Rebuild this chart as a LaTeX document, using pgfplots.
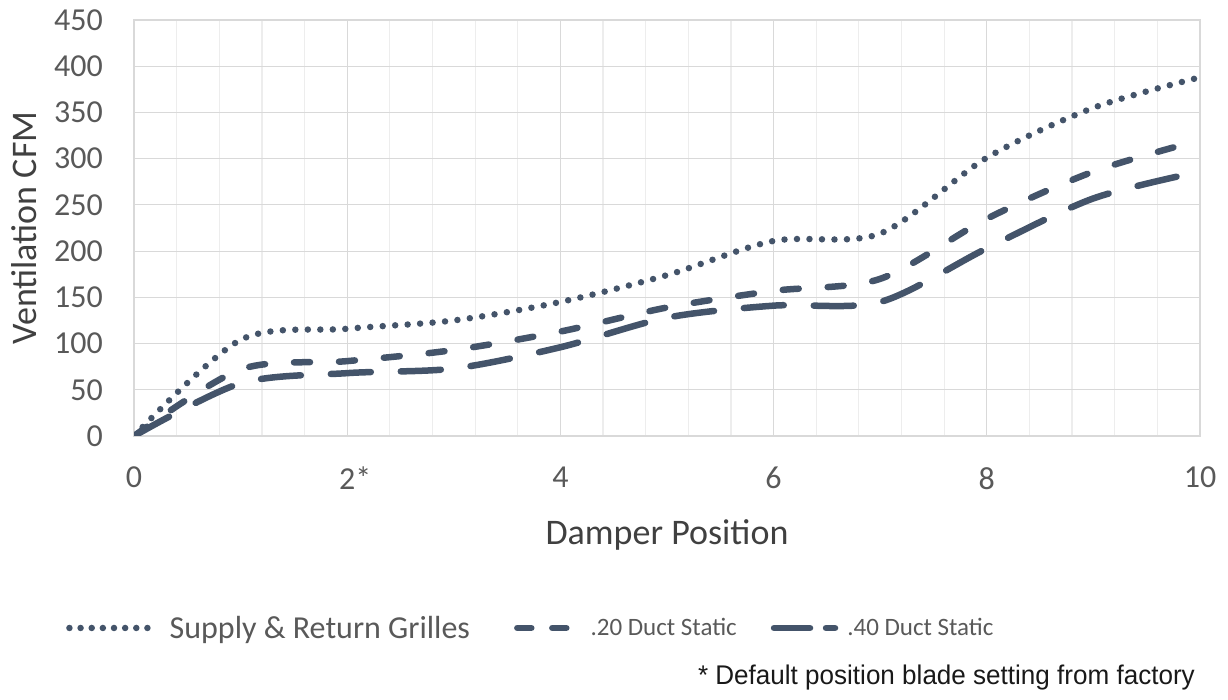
\documentclass[border=0pt]{standalone}
\usepackage{fontspec}
\setmainfont{Carlito}
\newfontfamily\arialfont{Liberation Sans}
\usepackage{graphicx}
\usepackage{pgfplots}
\pgfplotsset{compat=1.18}

\definecolor{series}{HTML}{44546A}
\definecolor{ticktext}{HTML}{595959}
\definecolor{titletext}{HTML}{404040}
\definecolor{majorgrid}{HTML}{D9D9D9}
\definecolor{minorgrid}{HTML}{EDEDED}

\tikzset{ser/.style={series, line width=6.5pt, line cap=round}}

\begin{document}
\begin{tikzpicture}[x=1pt,y=1pt]
\path[use as bounding box] (0,0) rectangle (1228,700);
\begin{axis}[
  at={(134pt,264pt)}, anchor=south west,
  scale only axis, width=1066pt, height=416pt,
  xmin=0, xmax=10, ymin=0, ymax=450,
  xtick={0,2,4,6,8,10},
  xticklabels={0,2\rlap{*},4,6,8,10},
  ytick={0,50,...,450},
  minor x tick num=4,
  grid=both,
  major grid style={majorgrid, line width=1.2pt},
  minor grid style={minorgrid, line width=1.2pt},
  axis line style={majorgrid, line width=1.2pt},
  major tick length=0pt, minor tick length=0pt,
  /pgf/number format/assume math mode=true,
  tick label style={font=\fontsize{32}{38}\selectfont, text=ticktext},
  yticklabel style={anchor=east, inner sep=0pt, xshift=-31pt},
  xticklabel style={anchor=north, inner sep=0pt, yshift=-31pt},
  every axis x label/.style={at={(axis description cs:0.5,-0.262)}, anchor=base},
  every axis y label/.style={at={(axis description cs:-0.1032,0.5)}, rotate=90, anchor=center},
  label style={font=\fontsize{36}{42}\selectfont, text=titletext},
  xlabel={Damper Position},
  ylabel={Ventilation CFM},
  legend columns=3,
  legend style={at={(axis description cs:-0.0638,-0.4615)}, anchor=west,
    draw=none, fill=none, inner sep=0pt,
    font=\fontsize{32}{38}\selectfont, text=ticktext,
    nodes={inner sep=0pt},
    /tikz/column 1/.style={column sep=19pt},
    /tikz/column 2/.style={column sep=44pt},
    /tikz/column 3/.style={column sep=21pt},
    /tikz/column 4/.style={column sep=34pt},
    /tikz/column 5/.style={column sep=9pt}},
  legend cell align=left,
]
\addplot[ser, smooth, dash pattern=on 0pt off 12.5pt,
  legend image code/.code={\draw[ser, dash pattern=on 0pt off 11.14pt] (0pt,0pt) -- (78pt,0pt);}]
  coordinates {(0,0) (1,104) (2,116) (3,125) (4,145) (5,174) (6,211) (7,219) (8,301) (9,355) (10,388)};
\addlegendentry{Supply \& Return Grilles}
\addplot[ser, smooth, dash pattern=on 16pt off 29pt,
  legend image code/.code={\draw[ser, dash pattern=on 14pt off 21pt] (0pt,0pt) -- (49pt,0pt);}]
  coordinates {(0,0) (1,72) (2,81) (3,93) (4,113) (5,139) (6,157) (7,170) (8,235) (9,286) (10,320)};
\addlegendentry{\fontsize{25}{30}\selectfont .20 Duct Static}
\addplot[ser, smooth, dash pattern=on 40pt off 30pt,
  legend image code/.code={\draw[ser, dash pattern=on 36pt off 16pt] (0pt,0pt) -- (61pt,0pt);}]
  coordinates {(0,0) (1,57) (2,68) (3,73) (4,96) (5,128) (6,141) (7,145) (8,203) (9,257) (10,286)};
\addlegendentry{\fontsize{25}{30}\selectfont .40 Duct Static}
\end{axis}
\node[anchor=base east, inner sep=0pt, font=\arialfont\fontsize{27}{32}\selectfont, text=black!90]
  at (1195,15) {\scalebox{0.965}[1]{* Default position blade setting from factory}};
\end{tikzpicture}
\end{document}
